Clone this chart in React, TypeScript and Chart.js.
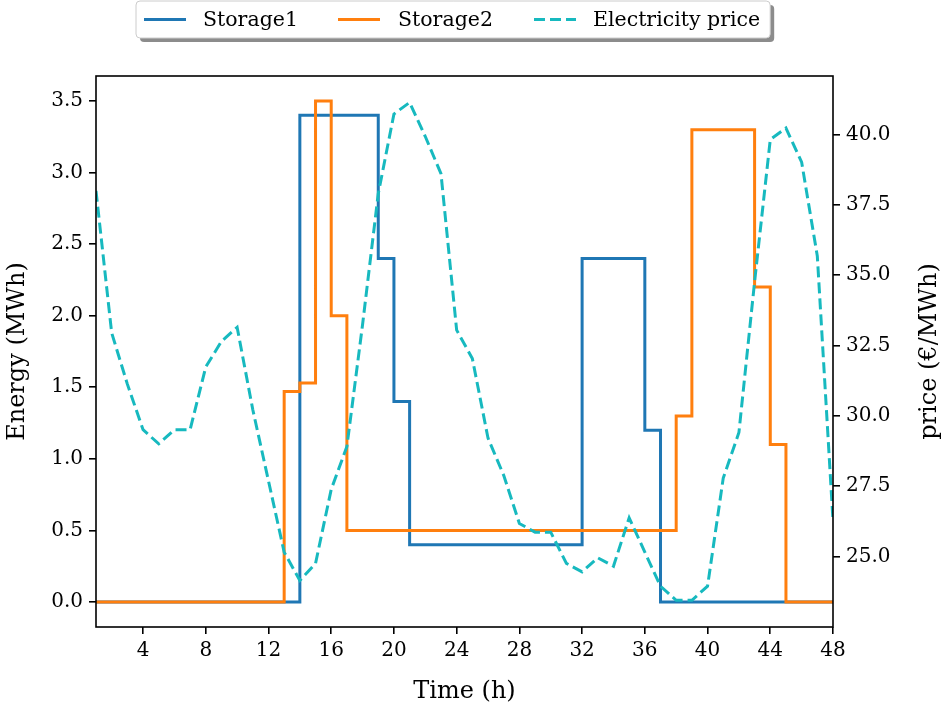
import React, { useEffect, useRef } from 'react';
import { Chart, registerables } from 'chart.js';

Chart.register(...registerables);

const hours = [1, 2, 3, 4, 5, 6, 7, 8, 9, 10, 11, 12, 13, 14, 15, 16, 17, 18, 19, 20, 21, 22, 23, 24,
  25, 26, 27, 28, 29, 30, 31, 32, 33, 34, 35, 36, 37, 38, 39, 40, 41, 42, 43, 44, 45, 46, 47, 48];

const storage1 = [0, 0, 0, 0, 0, 0, 0, 0, 0, 0, 0, 0, 0, 3.4, 3.4, 3.4, 3.4, 3.4, 2.4, 1.4, 0.4, 0.4, 0.4, 0.4,
  0.4, 0.4, 0.4, 0.4, 0.4, 0.4, 0.4, 2.4, 2.4, 2.4, 2.4, 1.2, 0, 0, 0, 0, 0, 0, 0, 0, 0, 0, 0, 0];

const storage2 = [0, 0, 0, 0, 0, 0, 0, 0, 0, 0, 0, 0, 1.47, 1.53, 3.5, 2.0, 0.5, 0.5, 0.5, 0.5, 0.5, 0.5, 0.5, 0.5,
  0.5, 0.5, 0.5, 0.5, 0.5, 0.5, 0.5, 0.5, 0.5, 0.5, 0.5, 0.5, 0.5, 1.3, 3.3, 3.3, 3.3, 3.3, 2.2, 1.1, 0, 0, 0, 0];

const price = [38.0, 32.95, 31.13, 29.51, 29.01, 29.51, 29.51, 31.74, 32.65, 33.15, 30.22, 27.69, 25.16, 24.15,
  24.76, 27.39, 28.91, 33.25, 37.9, 40.73, 41.14, 39.93, 38.61, 33.05, 32.04, 29.21, 27.89, 26.18, 25.87,
  25.87, 24.76, 24.46, 24.96, 24.66, 26.38, 25.16, 23.95, 23.45, 23.45, 23.95, 27.79, 29.41, 34.77, 39.82,
  40.23, 39.02, 35.68, 26.28];

const xTicks = [4, 8, 12, 16, 20, 24, 28, 32, 36, 40, 44, 48];
const energyTicks = [0, 0.5, 1.0, 1.5, 2.0, 2.5, 3.0, 3.5];
const priceTicks = [25, 27.5, 30, 32.5, 35, 37.5, 40];

const seriesLabels = ['Storage1', 'Storage2', 'Electricity price'];
const axisTitles = { x: 'Time (h)', y: 'Energy (MWh)', y2: 'price (€/MWh)' };

const FONT = "'DejaVu Serif', serif";
const BLUE = '#1f77b4';
const ORANGE = '#ff7f0e';
const CYAN = '#17b9bf';

function roundRect(ctx: CanvasRenderingContext2D, x: number, y: number, w: number, h: number, r: number) {
  ctx.beginPath();
  ctx.moveTo(x + r, y);
  ctx.lineTo(x + w - r, y);
  ctx.arcTo(x + w, y, x + w, y + r, r);
  ctx.lineTo(x + w, y + h - r);
  ctx.arcTo(x + w, y + h, x + w - r, y + h, r);
  ctx.lineTo(x + r, y + h);
  ctx.arcTo(x, y + h, x, y + h - r, r);
  ctx.lineTo(x, y + r);
  ctx.arcTo(x, y, x + r, y, r);
  ctx.closePath();
}

const mplPlugin = {
  id: 'mplExtras',
  afterDatasetsDraw(chart: any) {
    const { ctx, chartArea } = chart;
    ctx.save();
    ctx.strokeStyle = '#000';
    ctx.lineWidth = 1.6;
    ctx.strokeRect(chartArea.left, chartArea.top, chartArea.right - chartArea.left, chartArea.bottom - chartArea.top);
    ctx.restore();
  },
  afterDraw(chart: any) {
    const { ctx, chartArea } = chart;
    ctx.save();
    // right axis title (reads bottom to top)
    ctx.font = `24px ${FONT}`;
    ctx.fillStyle = '#000';
    ctx.textAlign = 'center';
    ctx.textBaseline = 'middle';
    ctx.translate(930, (chartArea.top + chartArea.bottom) / 2);
    ctx.rotate(-Math.PI / 2);
    ctx.fillText(axisTitles.y2, 0, 0);
    ctx.restore();

    // legend
    ctx.save();
    const bx = 136, by = 1, bh = 37, r = 4;
    const handleX = [144, 338, 534];
    const textX = [203, 398, 593];
    const handleLen = 42;
    ctx.font = `20.5px ${FONT}`;
    const lastW = ctx.measureText(seriesLabels[2]).width;
    const bw = textX[2] + lastW + 10 - bx;
    ctx.fillStyle = 'rgba(0,0,0,0.45)';
    roundRect(ctx, bx + 4, by + 4, bw, bh, r);
    ctx.fill();
    ctx.fillStyle = '#fff';
    roundRect(ctx, bx, by, bw, bh, r);
    ctx.fill();
    ctx.strokeStyle = '#cccccc';
    ctx.lineWidth = 1;
    ctx.stroke();
    const cy = by + bh / 2;
    chart.data.datasets.forEach((ds: any, i: number) => {
      ctx.save();
      ctx.strokeStyle = ds.borderColor;
      ctx.lineWidth = ds.borderWidth;
      ctx.setLineDash(ds.borderDash || []);
      ctx.beginPath();
      ctx.moveTo(handleX[i], cy);
      ctx.lineTo(handleX[i] + handleLen, cy);
      ctx.stroke();
      ctx.restore();
      ctx.fillStyle = '#000';
      ctx.textAlign = 'left';
      ctx.textBaseline = 'middle';
      ctx.fillText(ds.label, textX[i], cy + 1);
    });
    ctx.restore();
  },
};

function tickAxis(ticks: number[]) {
  return (scale: any) => {
    scale.ticks = ticks.map((v) => ({ value: v }));
  };
}

export default function App() {
  const canvasRef = useRef<HTMLCanvasElement | null>(null);

  useEffect(() => {
    if (!canvasRef.current) return;
    Chart.defaults.font.family = FONT;
    const chart = new Chart(canvasRef.current, {
      type: 'line',
      data: {
        datasets: [
          {
            label: seriesLabels[0],
            data: hours.map((h, i) => ({ x: h, y: storage1[i] })),
            borderColor: BLUE,
            backgroundColor: BLUE,
            borderWidth: 3,
            pointRadius: 0,
            stepped: 'before',
            yAxisID: 'y',
            order: 3,
          },
          {
            label: seriesLabels[1],
            data: hours.map((h, i) => ({ x: h, y: storage2[i] })),
            borderColor: ORANGE,
            backgroundColor: ORANGE,
            borderWidth: 3,
            pointRadius: 0,
            stepped: 'before',
            yAxisID: 'y',
            order: 2,
          },
          {
            label: seriesLabels[2],
            data: hours.map((h, i) => ({ x: h, y: price[i] })),
            borderColor: CYAN,
            backgroundColor: CYAN,
            borderWidth: 3,
            borderDash: [11, 5],
            pointRadius: 0,
            tension: 0,
            yAxisID: 'y2',
            order: 1,
          },
        ],
      },
      options: {
        animation: false,
        responsive: false,
        devicePixelRatio: 1,
        layout: { padding: { top: 76, left: 0, right: 0, bottom: 0 } },
        plugins: { legend: { display: false }, tooltip: { enabled: false } },
        scales: {
          x: {
            type: 'linear',
            position: 'bottom',
            min: 1,
            max: 48,
            afterBuildTicks: tickAxis(xTicks),
            afterFit: (s: any) => { s.height = 81; },
            ticks: { font: { size: 20, family: FONT }, color: '#000', padding: 5, maxRotation: 0, autoSkip: false },
            grid: { drawOnChartArea: false, drawTicks: true, tickLength: 7, color: '#000', lineWidth: 1.6 },
            border: { display: false },
            title: { display: true, text: axisTitles.x, font: { size: 24, family: FONT }, color: '#000', padding: { top: 0, bottom: 2 } },
          },
          y: {
            type: 'linear',
            position: 'left',
            min: -0.175,
            max: 3.675,
            afterBuildTicks: tickAxis(energyTicks),
            afterFit: (s: any) => { s.width = 96; },
            ticks: { font: { size: 20, family: FONT }, color: '#000', padding: 6, autoSkip: false, callback: (v: any) => Number(v).toFixed(1) },
            grid: { drawOnChartArea: false, drawTicks: true, tickLength: 7, color: '#000', lineWidth: 1.6 },
            border: { display: false },
            title: { display: true, text: axisTitles.y, font: { size: 24, family: FONT }, color: '#000', padding: { top: 3, bottom: 0 } },
          },
          y2: {
            type: 'linear',
            position: 'right',
            min: 22.5,
            max: 42.08,
            afterBuildTicks: tickAxis(priceTicks),
            afterFit: (s: any) => { s.width = 119; },
            ticks: { font: { size: 20, family: FONT }, color: '#000', padding: 6, autoSkip: false, callback: (v: any) => Number(v).toFixed(1) },
            grid: { drawOnChartArea: false, drawTicks: true, tickLength: 7, color: '#000', lineWidth: 1.6 },
            border: { display: false },
          },
        },
      },
      plugins: [mplPlugin],
    } as any);
    return () => chart.destroy();
  }, []);

  return (
    <div style={{ position: 'absolute', left: 0, top: 0, width: 952, height: 708, background: '#fff' }}>
      <canvas ref={canvasRef} width={952} height={708} />
    </div>
  );
}
